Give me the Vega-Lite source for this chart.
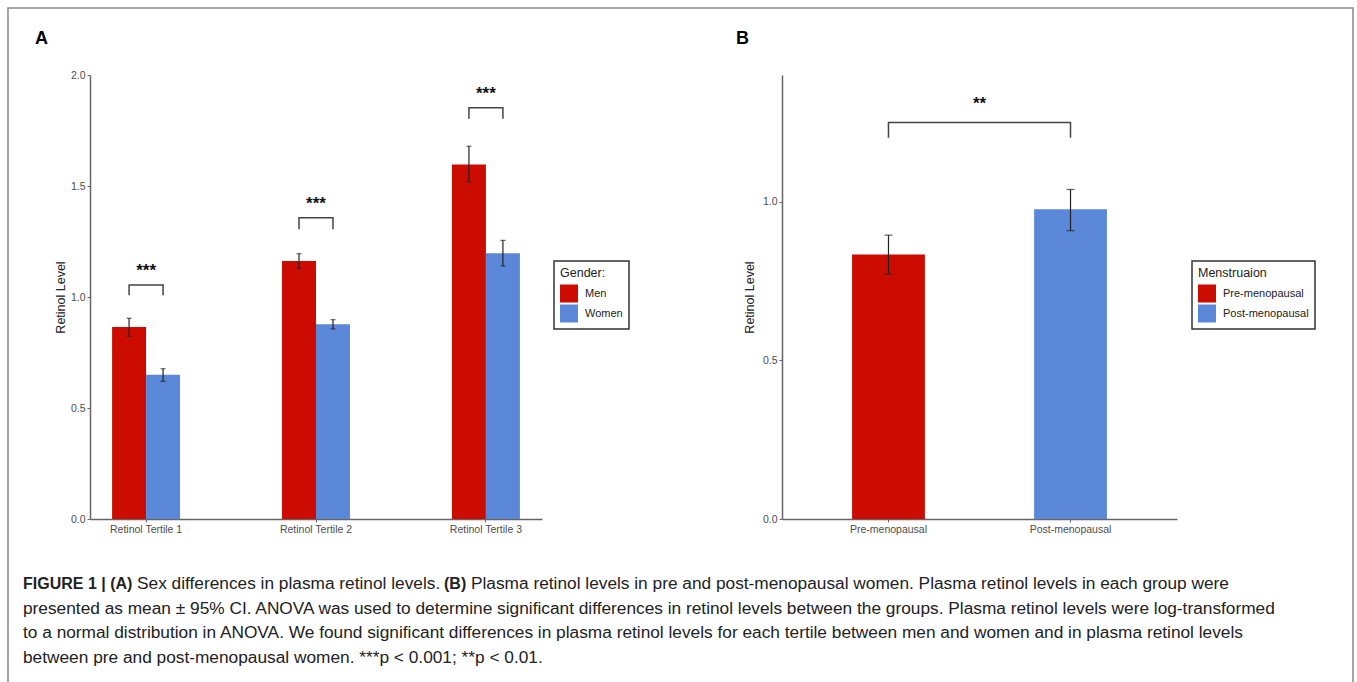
{
  "$schema": "https://vega.github.io/schema/vega-lite/v6.json",
  "autosize": {"type": "pad"},
  "padding": {"left": 7, "top": 7, "right": 4, "bottom": 0},
  "background": "white",
  "datasets": {
    "bars_a": [
      {"tertile": "Retinol Tertile 1", "gender": "Men", "mean": 0.865, "lo": 0.823, "hi": 0.904},
      {"tertile": "Retinol Tertile 1", "gender": "Women", "mean": 0.650, "lo": 0.620, "hi": 0.677},
      {"tertile": "Retinol Tertile 2", "gender": "Men", "mean": 1.162, "lo": 1.129, "hi": 1.195},
      {"tertile": "Retinol Tertile 2", "gender": "Women", "mean": 0.877, "lo": 0.856, "hi": 0.898},
      {"tertile": "Retinol Tertile 3", "gender": "Men", "mean": 1.597, "lo": 1.518, "hi": 1.679},
      {"tertile": "Retinol Tertile 3", "gender": "Women", "mean": 1.197, "lo": 1.140, "hi": 1.255}
    ],
    "brackets_a": [
      {"tertile": "Retinol Tertile 1", "gender": "Men", "y": 1.008, "seq": 1},
      {"tertile": "Retinol Tertile 1", "gender": "Men", "y": 1.054, "seq": 2},
      {"tertile": "Retinol Tertile 1", "gender": "Women", "y": 1.054, "seq": 3},
      {"tertile": "Retinol Tertile 1", "gender": "Women", "y": 1.008, "seq": 4},
      {"tertile": "Retinol Tertile 2", "gender": "Men", "y": 1.305, "seq": 1},
      {"tertile": "Retinol Tertile 2", "gender": "Men", "y": 1.357, "seq": 2},
      {"tertile": "Retinol Tertile 2", "gender": "Women", "y": 1.357, "seq": 3},
      {"tertile": "Retinol Tertile 2", "gender": "Women", "y": 1.305, "seq": 4},
      {"tertile": "Retinol Tertile 3", "gender": "Men", "y": 1.803, "seq": 1},
      {"tertile": "Retinol Tertile 3", "gender": "Men", "y": 1.852, "seq": 2},
      {"tertile": "Retinol Tertile 3", "gender": "Women", "y": 1.852, "seq": 3},
      {"tertile": "Retinol Tertile 3", "gender": "Women", "y": 1.803, "seq": 4}
    ],
    "stars_a": [
      {"tertile": "Retinol Tertile 1", "y": 1.117, "label": "***"},
      {"tertile": "Retinol Tertile 2", "y": 1.419, "label": "***"},
      {"tertile": "Retinol Tertile 3", "y": 1.914, "label": "***"}
    ],
    "bars_b": [
      {"group": "Pre-menopausal", "mean": 0.834, "lo": 0.773, "hi": 0.895},
      {"group": "Post-menopausal", "mean": 0.977, "lo": 0.909, "hi": 1.039}
    ],
    "brackets_b": [
      {"group": "Pre-menopausal", "y": 1.202, "seq": 1},
      {"group": "Pre-menopausal", "y": 1.25, "seq": 2},
      {"group": "Post-menopausal", "y": 1.25, "seq": 3},
      {"group": "Post-menopausal", "y": 1.202, "seq": 4}
    ],
    "stars_b": [
      {"group": "Pre-menopausal", "y": 1.31, "label": "**"}
    ],
    "caption": [
      {"line": 1, "seg": 1, "text": "FIGURE 1 | (A)"},
      {"line": 1, "seg": 2, "text": "Sex differences in plasma retinol levels."},
      {"line": 1, "seg": 3, "text": "(B)"},
      {"line": 1, "seg": 4, "text": "Plasma retinol levels in pre and post-menopausal women. Plasma retinol levels in each group were"},
      {"line": 2, "seg": 0, "text": "presented as mean ± 95% CI. ANOVA was used to determine significant differences in retinol levels between the groups. Plasma retinol levels were log-transformed"},
      {"line": 3, "seg": 0, "text": "to a normal distribution in ANOVA. We found significant differences in plasma retinol levels for each tertile between men and women and in plasma retinol levels"},
      {"line": 4, "seg": 0, "text": "between pre and post-menopausal women. ***p < 0.001; **p < 0.01."}
    ]
  },
  "columns": 2,
  "align": "each",
  "bounds": "flush",
  "spacing": {"column": 240, "row": 53},
  "resolve": {"scale": {"color": "independent"}, "legend": {"color": "independent"}},
  "concat": [
    {
      "width": 452,
      "height": 444,
      "title": {"text": "A", "anchor": "start", "frame": "group", "dx": -55, "offset": 22, "fontSize": 18, "fontWeight": "bold", "color": "#000"},
      "layer": [
        {
          "data": {"name": "bars_a"},
          "mark": {"type": "bar"},
          "encoding": {
            "x": {"field": "tertile", "type": "nominal", "sort": null, "title": null, "scale": {"paddingInner": 0.6, "paddingOuter": 0.13}},
            "xOffset": {"field": "gender", "type": "nominal", "scale": {"paddingInner": 0, "paddingOuter": 0}},
            "y": {"field": "mean", "type": "quantitative", "title": "Retinol Level", "scale": {"domain": [0, 2], "nice": false, "zero": true}, "axis": {"values": [0, 0.5, 1, 1.5, 2], "format": ".1f", "titlePadding": 3}},
            "color": {"field": "gender", "type": "nominal", "scale": {"domain": ["Men", "Women"], "range": ["#CC0C00", "#5B87D8"]}, "legend": {"title": "Gender:", "orient": "none", "legendX": 464, "legendY": 186}}
          }
        },
        {
          "data": {"name": "bars_a"},
          "mark": {"type": "rule", "color": "#222", "strokeWidth": 1.2},
          "encoding": {
            "x": {"field": "tertile", "type": "nominal", "sort": null, "title": null},
            "xOffset": {"field": "gender", "type": "nominal"},
            "y": {"field": "lo", "type": "quantitative", "title": "Retinol Level"},
            "y2": {"field": "hi"}
          }
        },
        {
          "data": {"name": "bars_a"},
          "mark": {"type": "tick", "orient": "horizontal", "color": "#222", "thickness": 1.2, "size": 5},
          "encoding": {
            "x": {"field": "tertile", "type": "nominal", "sort": null, "title": null},
            "xOffset": {"field": "gender", "type": "nominal"},
            "y": {"field": "lo", "type": "quantitative", "title": "Retinol Level"}
          }
        },
        {
          "data": {"name": "bars_a"},
          "mark": {"type": "tick", "orient": "horizontal", "color": "#222", "thickness": 1.2, "size": 5},
          "encoding": {
            "x": {"field": "tertile", "type": "nominal", "sort": null, "title": null},
            "xOffset": {"field": "gender", "type": "nominal"},
            "y": {"field": "hi", "type": "quantitative", "title": "Retinol Level"}
          }
        },
        {
          "data": {"name": "brackets_a"},
          "mark": {"type": "line", "color": "#444", "strokeWidth": 1.5},
          "encoding": {
            "x": {"field": "tertile", "type": "nominal", "sort": null, "title": null},
            "xOffset": {"field": "gender", "type": "nominal"},
            "y": {"field": "y", "type": "quantitative", "title": "Retinol Level"},
            "detail": {"field": "tertile"},
            "order": {"field": "seq"}
          }
        },
        {
          "data": {"name": "stars_a"},
          "mark": {"type": "text", "fontSize": 17, "fontWeight": "bold", "color": "#111", "baseline": "middle"},
          "encoding": {
            "x": {"field": "tertile", "type": "nominal", "sort": null, "title": null},
            "y": {"field": "y", "type": "quantitative", "title": "Retinol Level"},
            "text": {"field": "label"}
          }
        }
      ]
    },
    {
      "width": 395,
      "height": 444,
      "title": {"text": "B", "anchor": "start", "frame": "group", "dx": -46, "offset": 27, "fontSize": 18, "fontWeight": "bold", "color": "#000"},
      "layer": [
        {
          "data": {"name": "bars_b"},
          "mark": {"type": "bar"},
          "encoding": {
            "x": {"field": "group", "type": "nominal", "sort": null, "title": null, "scale": {"paddingInner": 0.6, "paddingOuter": 0.385}},
            "y": {"field": "mean", "type": "quantitative", "title": "Retinol Level", "scale": {"domain": [0, 1.4], "nice": false, "zero": true}, "axis": {"values": [0, 0.5, 1], "format": ".1f"}},
            "color": {"field": "group", "type": "nominal", "scale": {"domain": ["Pre-menopausal", "Post-menopausal"], "range": ["#CC0C00", "#5B87D8"]}, "legend": {"title": "Menstruaion", "orient": "none", "legendX": 410, "legendY": 186}}
          }
        },
        {
          "data": {"name": "bars_b"},
          "mark": {"type": "rule", "color": "#222", "strokeWidth": 1.2},
          "encoding": {
            "x": {"field": "group", "type": "nominal", "sort": null, "title": null},
            "y": {"field": "lo", "type": "quantitative", "title": "Retinol Level"},
            "y2": {"field": "hi"}
          }
        },
        {
          "data": {"name": "bars_b"},
          "mark": {"type": "tick", "orient": "horizontal", "color": "#222", "thickness": 1.2, "size": 8},
          "encoding": {
            "x": {"field": "group", "type": "nominal", "sort": null, "title": null},
            "y": {"field": "lo", "type": "quantitative", "title": "Retinol Level"}
          }
        },
        {
          "data": {"name": "bars_b"},
          "mark": {"type": "tick", "orient": "horizontal", "color": "#222", "thickness": 1.2, "size": 8},
          "encoding": {
            "x": {"field": "group", "type": "nominal", "sort": null, "title": null},
            "y": {"field": "hi", "type": "quantitative", "title": "Retinol Level"}
          }
        },
        {
          "data": {"name": "brackets_b"},
          "mark": {"type": "line", "color": "#444", "strokeWidth": 1.5},
          "encoding": {
            "x": {"field": "group", "type": "nominal", "sort": null, "title": null},
            "y": {"field": "y", "type": "quantitative", "title": "Retinol Level"},
            "order": {"field": "seq"}
          }
        },
        {
          "data": {"name": "stars_b"},
          "mark": {"type": "text", "fontSize": 17, "fontWeight": "bold", "color": "#111", "baseline": "middle"},
          "encoding": {
            "x": {"field": "group", "type": "nominal", "sort": null, "title": null, "bandPosition": 1.75},
            "y": {"field": "y", "type": "quantitative", "title": "Retinol Level"},
            "text": {"field": "label"}
          }
        }
      ]
    },
    {
      "width": 452,
      "height": 98,
      "data": {"name": "caption"},
      "layer": [
        {
          "transform": [{"filter": "datum.seg == 0"}],
          "mark": {"type": "text", "align": "left", "baseline": "middle", "fontSize": 17.3, "color": "#222"},
          "encoding": {
            "y": {"field": "line", "type": "ordinal", "scale": {"type": "point", "padding": 0.5}, "axis": null},
            "x": {"value": -67},
            "text": {"field": "text"}
          }
        },
        {
          "transform": [{"filter": "datum.seg == 1"}],
          "mark": {"type": "text", "align": "left", "baseline": "middle", "fontSize": 16, "fontWeight": "bold", "color": "#222"},
          "encoding": {
            "y": {"field": "line", "type": "ordinal", "axis": null},
            "x": {"value": -67},
            "text": {"field": "text"}
          }
        },
        {
          "transform": [{"filter": "datum.seg == 2"}],
          "mark": {"type": "text", "align": "left", "baseline": "middle", "fontSize": 17.3, "color": "#222", "dx": 114},
          "encoding": {
            "y": {"field": "line", "type": "ordinal", "axis": null},
            "x": {"value": -67},
            "text": {"field": "text"}
          }
        },
        {
          "transform": [{"filter": "datum.seg == 3"}],
          "mark": {"type": "text", "align": "left", "baseline": "middle", "fontSize": 16, "fontWeight": "bold", "color": "#222", "dx": 421},
          "encoding": {
            "y": {"field": "line", "type": "ordinal", "axis": null},
            "x": {"value": -67},
            "text": {"field": "text"}
          }
        },
        {
          "transform": [{"filter": "datum.seg == 4"}],
          "mark": {"type": "text", "align": "left", "baseline": "middle", "fontSize": 17.3, "color": "#222", "dx": 448},
          "encoding": {
            "y": {"field": "line", "type": "ordinal", "axis": null},
            "x": {"value": -67},
            "text": {"field": "text"}
          }
        },
        {
          "data": {"values": [{"frame": "figure"}]},
          "mark": {"type": "rect", "fill": null, "stroke": "#888", "strokeWidth": 1.5},
          "encoding": {
            "x": {"value": -82},
            "x2": {"value": 1263},
            "y": {"value": -564},
            "y2": {"value": 113}
          }
        }
      ]
    }
  ],
  "config": {
    "font": "Liberation Sans",
    "view": {"stroke": null},
    "axis": {
      "grid": false,
      "domainColor": "#666",
      "domainWidth": 1.5,
      "tickColor": "#666",
      "tickSize": 3,
      "tickWidth": 1,
      "labelColor": "#4d4d4d",
      "labelFontSize": 10.5,
      "labelFont": "Liberation Sans",
      "titleFont": "Liberation Sans",
      "titleFontSize": 12.5,
      "titleFontWeight": "normal",
      "titleColor": "#222"
    },
    "axisX": {"labelAngle": 0, "labelPadding": 2},
    "axisY": {"titlePadding": 6, "labelPadding": 2},
    "legend": {
      "strokeColor": "#333",
      "strokeWidth": 1.5,
      "padding": 6,
      "symbolType": "square",
      "symbolSize": 324,
      "symbolStrokeWidth": 0,
      "symbolOpacity": 1,
      "labelFontSize": 11,
      "labelColor": "#222",
      "labelOffset": 7,
      "titleFontSize": 12.5,
      "titleFontWeight": "normal",
      "titleColor": "#222",
      "titlePadding": 5,
      "rowPadding": 2
    }
  }
}
